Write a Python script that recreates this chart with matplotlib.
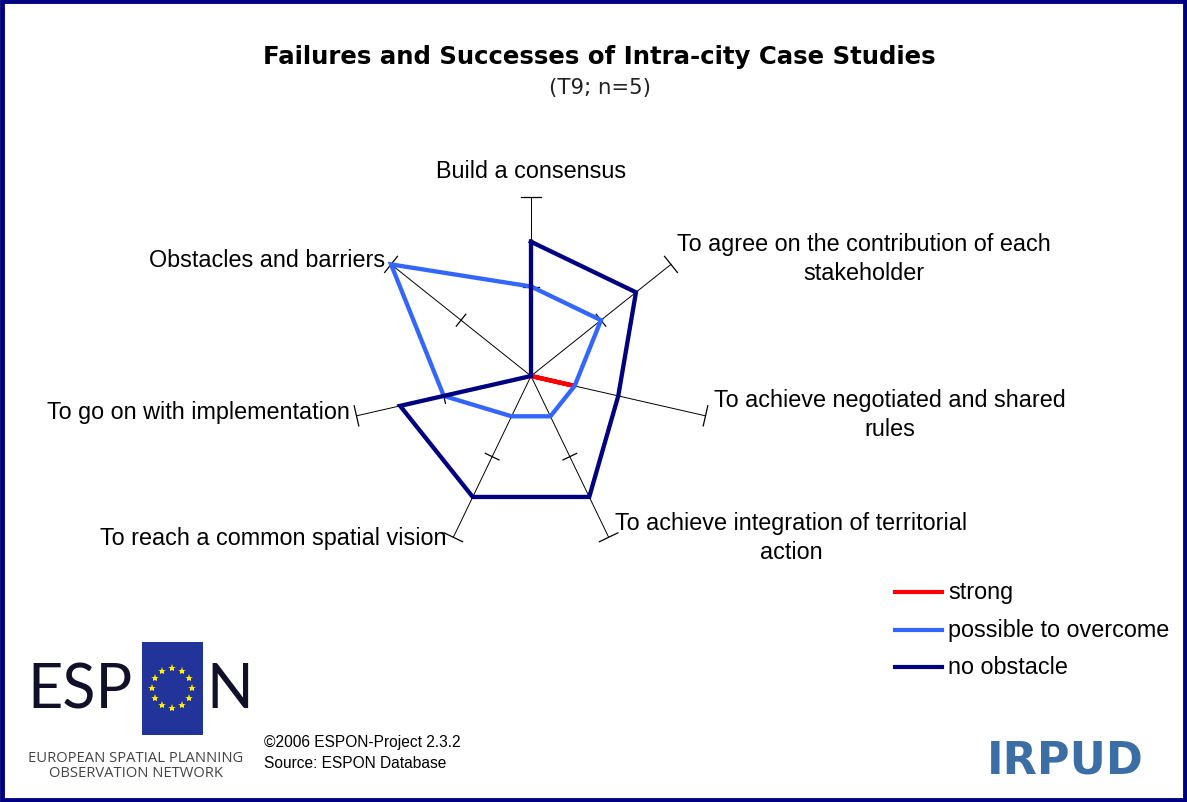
import numpy as np
import matplotlib
matplotlib.use("Agg")
import matplotlib.pyplot as plt
from matplotlib.patches import Rectangle

# ---------------- data ----------------
categories = [
    "Build a consensus",
    "To agree on the contribution of each\nstakeholder",
    "To achieve negotiated and shared\nrules",
    "To achieve integration of territorial\naction",
    "To reach a common spatial vision",
    "To go on with implementation",
    "Obstacles and barriers",
]
strong = [0, 0, 1, 0, 0, 0, 0]
possible_to_overcome = [2, 2, 1, 1, 1, 2, 4]
no_obstacle = [3, 3, 2, 3, 3, 3, 0]
series_names = ["strong", "possible to overcome", "no obstacle"]
series_colors = ["#FF0000", "#3366FF", "#000080"]
r_max = 4
r_ticks = [2, 4]

title = "Failures and Successes of Intra-city Case Studies"
subtitle = "(T9; n=5)"

W, H = 1187, 803
fig = plt.figure(figsize=(W / 100, H / 100), dpi=100)
fig.patch.set_facecolor("white")

def fx(x):
    return x / W

def fy(y):
    return 1 - y / H

# border
fig.patches.append(Rectangle((0.0015, 0.0025), 0.997, 0.995, transform=fig.transFigure,
                             fill=False, edgecolor="#000080", linewidth=3.5))

# ---------------- radar ----------------
cx, cy, R = 531, 377, 179
ax = fig.add_axes([fx(cx - R), fy(cy + R), 2 * R / W, 2 * R / H], projection="polar")
ax.set_theta_offset(np.pi / 2)
ax.set_theta_direction(-1)
ax.set_ylim(0, r_max)
ax.grid(False)
ax.set_xticks([])
ax.set_yticks([])
ax.spines["polar"].set_visible(False)
ax.patch.set_alpha(0)

n = len(categories)
theta = np.arange(n) * 2 * np.pi / n

# spokes with tick marks
for t in theta:
    ax.plot([t, t], [0, r_max], color="black", lw=0.7, clip_on=False, zorder=1)
    for rt in r_ticks:
        h = 0.23 if rt == r_max else 0.17
        dt = np.arctan(h / rt)
        rr = np.hypot(rt, h)
        ax.plot([t - dt, t, t + dt], [rr, rt, rr], color="black", lw=0.9,
                clip_on=False, zorder=1)

th_closed = np.append(theta, theta[0])
for vals, col, name, z in zip([strong, possible_to_overcome, no_obstacle],
                              series_colors, series_names, [2, 3, 4]):
    v = np.append(vals, vals[0])
    ax.plot(th_closed, v, color=col, lw=3.1, clip_on=False, zorder=z,
            solid_joinstyle="miter", label=name)

# category labels
lab_font = dict(family="Liberation Sans", fontsize=16.8, color="black")
label_pos = [
    (531, 172, "center"),
    (864, 259, "center"),
    (890, 415, "center"),
    (791, 538, "center"),
    (447, 538, "right"),
    (350, 413, "right"),
    (385, 261, "right"),
]
for cat, (x, y, ha) in zip(categories, label_pos):
    fig.text(fx(x), fy(y), cat, ha=ha, va="center", linespacing=1.3, **lab_font)

# title
fig.text(fx(599), fy(57), title, ha="center", va="center", fontsize=17.6,
         fontweight="bold", family="DejaVu Sans")
fig.text(fx(600), fy(88), subtitle, ha="center", va="center", fontsize=15.3,
         family="DejaVu Sans", color="#222222")

# legend (manual)
leg_y = [593, 631, 668]
for name, col, y in zip(series_names, series_colors, leg_y):
    fig.lines.append(plt.Line2D([fx(895), fx(942)], [fy(y), fy(y)], color=col, lw=3.0,
                                transform=fig.transFigure))
    fig.text(fx(948), fy(y), name, ha="left", va="center", **lab_font)

# ESPON logo
fig.text(fx(27), fy(691), "ESP", ha="left", va="center", fontsize=44,
         family="Lato", color="#101028")
fig.text(fx(206), fy(691), "N", ha="left", va="center", fontsize=44,
         family="Lato", color="#101028")
fig.patches.append(Rectangle((fx(142), fy(736)), 61 / W, 93 / H, transform=fig.transFigure,
                             facecolor="#22339A", edgecolor="none"))
star_ang = np.arange(12) * 2 * np.pi / 12
for a in star_ang:
    sx = 172 + 20 * np.cos(a)
    sy = 689 + 20 * np.sin(a)
    fig.lines.append(plt.Line2D([fx(sx)], [fy(sy)], marker="*", color="#FFEE00",
                                markersize=6, markeredgewidth=0, transform=fig.transFigure))
fig.text(fx(136), fy(766), "EUROPEAN SPATIAL PLANNING\nOBSERVATION NETWORK", ha="center",
         va="center", fontsize=10.6, family="Open Sans", color="#444444", linespacing=1.05)

fig.text(fx(264), fy(753), "\u00a92006 ESPON-Project 2.3.2\nSource: ESPON Database",
         ha="left", va="center", fontsize=11.2, family="Liberation Sans", color="black",
         linespacing=1.45)

# IRPUD logo
fig.text(fx(1065), fy(761), "IRPUD", ha="center", va="center", fontsize=32,
         fontweight="bold", family="DejaVu Sans", color="#3A6EA5")

fig.savefig("out.png", dpi=100, facecolor="white")
